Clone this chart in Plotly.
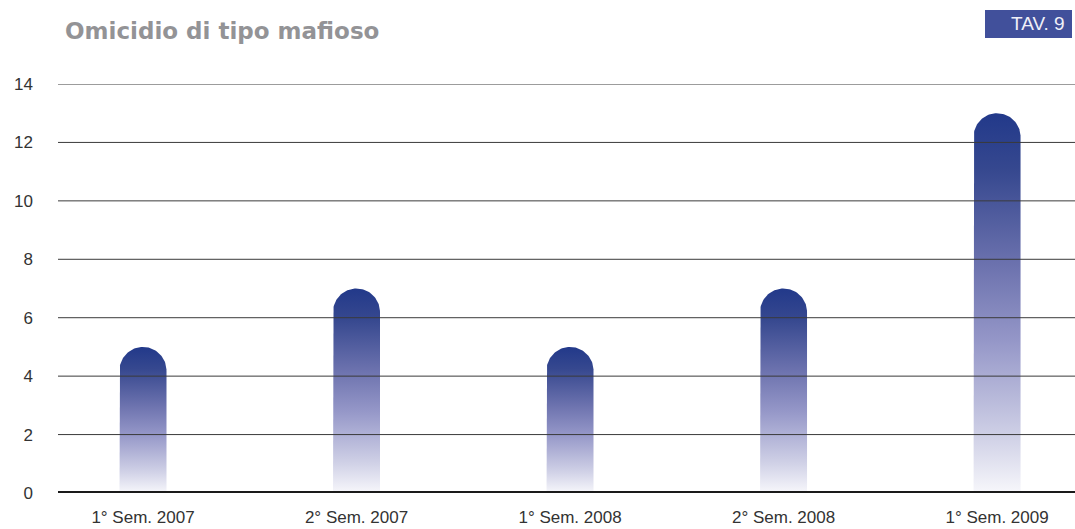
import numpy as np
import plotly.graph_objects as go

categories = ["1° Sem. 2007", "2° Sem. 2007", "1° Sem. 2008", "2° Sem. 2008", "1° Sem. 2009"]
values = [5, 7, 5, 7, 13]
y_ticks = [0, 2, 4, 6, 8, 10, 12, 14]

W, H = 1075, 529
ML, MR, MT, MB = 58, 0, 84, 36
x_range = [-0.398, 4.365]
y_range = [0, 14]
px_per_x = (W - ML - MR) / (x_range[1] - x_range[0])
px_per_y = (H - MT - MB) / (y_range[1] - y_range[0])

half_w = 0.11
r_y = half_w * px_per_x / px_per_y

gradient = [[0, "#f7f7fb"], [0.15, "#cfd0e6"], [0.4, "#9597c8"], [0.6, "#6c72ae"],
            [0.85, "#36488f"], [1, "#22398a"]]

fig = go.Figure()
theta = np.linspace(0, np.pi, 60)
for i, v in enumerate(values):
    top_rect = v - r_y
    xs = [i - half_w, i - half_w] + list(i + half_w * np.cos(np.pi - theta)) + [i + half_w, i + half_w, i - half_w]
    ys = [0, top_rect] + list(top_rect + r_y * np.sin(np.pi - theta)) + [top_rect, 0, 0]
    fig.add_trace(go.Scatter(
        x=xs, y=ys, mode="lines", fill="toself", line=dict(width=0),
        fillgradient=dict(type="vertical", start=0, stop=v, colorscale=gradient),
        hoverinfo="skip", showlegend=False))

def px_x(p):
    return (p - ML) / (W - ML - MR)

def px_y(p):
    return (H - MB - p) / (H - MT - MB)

shapes = []
for t in y_ticks[1:]:
    shapes.append(dict(type="line", xref="paper", x0=0, x1=1, yref="y", y0=t, y1=t,
                       line=dict(color="#3a3a3a", width=1), layer="above"))
shapes.append(dict(type="line", xref="paper", x0=0, x1=1, yref="y", y0=0, y1=0,
                   line=dict(color="#1a1a1a", width=4), layer="above"))
shapes.append(dict(type="rect", xref="paper", yref="paper",
                   x0=px_x(985), x1=px_x(1072), y0=px_y(38), y1=px_y(10),
                   fillcolor="#41509b", line=dict(width=0), layer="above"))

fig.update_layout(
    width=W, height=H,
    margin=dict(l=ML, r=MR, t=MT, b=MB),
    plot_bgcolor="white", paper_bgcolor="white",
    font=dict(family="Liberation Sans, Arial, sans-serif", color="#333333", size=17),
    shapes=shapes,
    xaxis=dict(range=x_range, tickmode="array", tickvals=list(range(len(categories))),
               ticktext=categories, showgrid=False, zeroline=False, showline=False,
               ticks="", ticklabelstandoff=12, tickfont=dict(size=17, color="#333333"),
               fixedrange=True),
    yaxis=dict(range=y_range, tickmode="array", tickvals=y_ticks, showgrid=False,
               zeroline=False, showline=False, ticks="", ticklabelstandoff=24,
               tickfont=dict(size=17, color="#333333"), fixedrange=True),
    annotations=[
        dict(text="<b>Omicidio di tipo mafioso</b>", xref="paper", yref="paper",
             x=px_x(63), y=px_y(31), xanchor="left", yanchor="middle", showarrow=False,
             font=dict(size=23, color="#939396", family="DejaVu Sans, sans-serif")),
        dict(text="TAV. 9", xref="paper", yref="paper",
             x=px_x(1067), y=px_y(24), xanchor="right", yanchor="middle", showarrow=False,
             font=dict(size=19, color="#f0f0f8", family="Liberation Sans, Arial, sans-serif")),
    ],
)

fig.write_html("out.html", config={"displayModeBar": False},
               post_script="document.body.style.margin='0';document.body.style.overflow='hidden';")
